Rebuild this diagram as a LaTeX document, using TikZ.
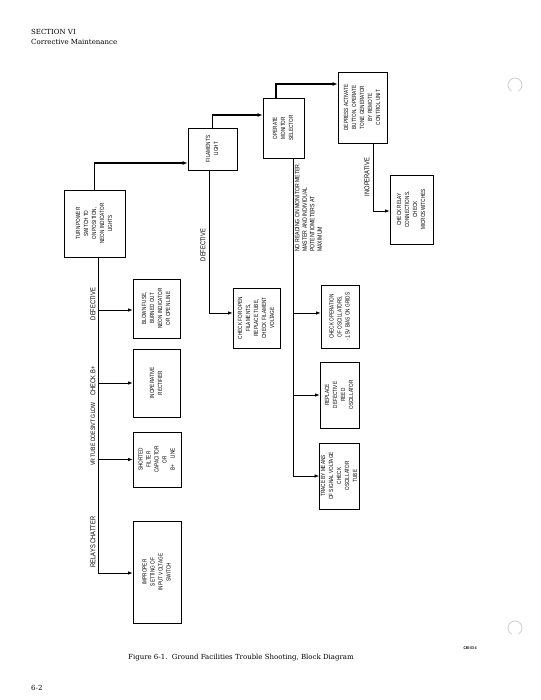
\documentclass[tikz,border=0pt]{standalone}
\usepackage{fontspec}
\setmainfont{DejaVu Serif}
\newfontfamily\boxfont[FakeStretch=0.78]{Liberation Sans}
\newfontfamily\lblfont[FakeStretch=0.82]{Liberation Sans}
\usetikzlibrary{arrows.meta}
\newcommand{\rottxt}[1]{\rotatebox{90}{\begin{tabular}{@{}c@{}}#1\end{tabular}}}

\begin{document}
\begin{tikzpicture}[x=1pt,y=-1pt,
    box/.style={draw,line width=.8pt,inner sep=0pt,font=\boxfont\fontsize{6}{8}\selectfont},
    lbl/.style={rotate=90,inner sep=0pt,font=\lblfont\fontsize{7}{8}\selectfont},
    conn/.style={line width=.7pt,-{Latex[length=4.5pt,width=3.5pt]}},
    mainln/.style={line width=1.6pt,-{Latex[length=5pt,width=4pt]}}]
  \useasboundingbox (0,0) rectangle (540,700);
  \node[anchor=west,inner sep=0pt,font=\fontsize{7}{8}\selectfont] (sec) at (31,32) {SECTION VI};
  \node[anchor=west,inner sep=0pt,font=\fontsize{7}{8}\selectfont] (cm) at (31,42) {Corrective Maintenance};

  \node[box,minimum width=61,minimum height=67] (turn) at (94.5,223.5) {\rottxt{TURN POWER\\SWITCH TO\\ON POSITION,\\NEON INDICATOR\\LIGHTS}};
  \node[box,minimum width=49,minimum height=42] (fil) at (212.5,149) {\rottxt{FILAMENTS\\LIGHT}};
  \node[box,minimum width=41,minimum height=60] (oper) at (283.5,128) {\rottxt{OPERATE\\MONITOR\\SELECTOR}};
  \node[box,minimum width=49,minimum height=71] (depr) at (362.5,107.5) {\rottxt{DEPRESS ACTIVATE\\BUTTON, OPERATE\\TONE GENERATOR\\BY REMOTE\\CONTROL UNIT}};
  \node[box,minimum width=43,minimum height=69] (relay) at (411.5,209.5) {\rottxt{CHECK RELAY\\CONNECTIONS.\\CHECK\\MICROSWITCHES}};

  \node[box,minimum width=47,minimum height=59] (blown) at (156.5,308.5) {\rottxt{BLOWN FUSE,\\BURNED OUT\\NEON INDICATOR\\OR OPEN LINE}};
  \node[box,minimum width=47,minimum height=68] (rect) at (156.5,383) {\rottxt{INOPERATIVE\\RECTIFIER}};
  \node[box,minimum width=48,minimum height=55] (short) at (157,459.5) {\rottxt{SHORTED\\FILTER\\CAPACITOR\\OR\\B+\quad LINE}};
  \node[box,minimum width=48,minimum height=102] (impr) at (157,572) {\rottxt{IMPROPER\\SETTING OF\\INPUT VOLTAGE\\SWITCH}};

  \node[box,minimum width=47,minimum height=60] (chkfil) at (256.5,318) {\rottxt{CHECK FOR OPEN\\FILAMENTS,\\REPLACE TUBE,\\CHECK FILAMENT\\VOLTAGE}};
  \node[box,minimum width=38,minimum height=63] (chkosc) at (340,316.5) {\rottxt{CHECK OPERATION\\OF OSCILLATORS,\\-1.5V BIAS ON GRIDS}};
  \node[box,minimum width=39,minimum height=66] (reed) at (339.5,395) {\rottxt{REPLACE\\DEFECTIVE\\REED\\OSCILLATOR}};
  \node[box,minimum width=39,minimum height=66] (trace) at (339.5,476) {\rottxt{TRACE BY MEANS\\OF SIGNAL VOLTAGE\\CHECK\\OSCILLATOR\\TUBE}};

  \draw[mainln] (turn.north) |- ([yshift=-14pt]fil.west);
  \draw[mainln] (fil.north) |- ([yshift=13pt]oper.west);
  \draw[mainln] ([xshift=-7.5pt]oper.north) |- ([yshift=23.5pt]depr.west);

  \coordinate (tb) at ([xshift=3.5pt]turn.south);
  \draw[conn] (tb) |- ([yshift=-1.5pt]blown.west);
  \draw[conn] (tb) |- (rect.west);
  \draw[conn] (tb) |- (short.west);
  \draw[conn] (tb) |- ([yshift=-1pt]impr.west);
  \draw[conn] ([xshift=-3.5pt]fil.south) |- ([yshift=5pt]chkfil.west);
  \coordinate (ob) at ([xshift=9.5pt]oper.south);
  \draw[conn] (ob) |- ([yshift=3.5pt]chkosc.west);
  \draw[conn] (ob) |- (reed.west);
  \draw[conn] (ob) |- (trace.west);
  \draw[conn] ([xshift=10.5pt]depr.south) |- ([yshift=-1.5pt]relay.west);

  \node[lbl] (defa) at (93,304) {DEFECTIVE};
  \node[lbl] (chkb) at (93,381) {CHECK B+};
  \node[lbl,font=\lblfont\fontsize{6.3}{8}\selectfont] (vrt) at (93,434) {VR TUBE DOESN'T GLOW};
  \node[lbl] (rly) at (93,542) {RELAYS CHATTER};
  \node[lbl] (defb) at (203,245) {DEFECTIVE};
  \node[lbl,align=left,anchor=west,font=\lblfont\fontsize{6.3}{7.5}\selectfont] (noread) at (308.5,252) {NO READING ON MONITOR METER.\\MASTER AND INDIVIDUAL\\POTENTIOMETERS AT\\MAXIMUM};
  \node[lbl] (inop) at (367,177) {INOPERATIVE};

  \draw[gray!40,line width=.8pt] (515,85) ++(120:7) arc[start angle=120,end angle=420,radius=7];
  \draw[gray!40,line width=.8pt] (515,628) ++(120:7) arc[start angle=120,end angle=420,radius=7];

  \node[anchor=west,inner sep=0pt,font=\fontsize{7}{8}\selectfont] (cap) at (128,658) {Figure 6-1.\ \ Ground Facilities Trouble Shooting, Block Diagram};
  \node[inner sep=0pt,font=\boxfont\bfseries\fontsize{4}{5}\selectfont] (code) at (470,648) {C80-03-4};
  \node[anchor=west,inner sep=0pt,font=\fontsize{7}{8}\selectfont] (pg) at (31,688) {6-2};
\end{tikzpicture}
\end{document}
